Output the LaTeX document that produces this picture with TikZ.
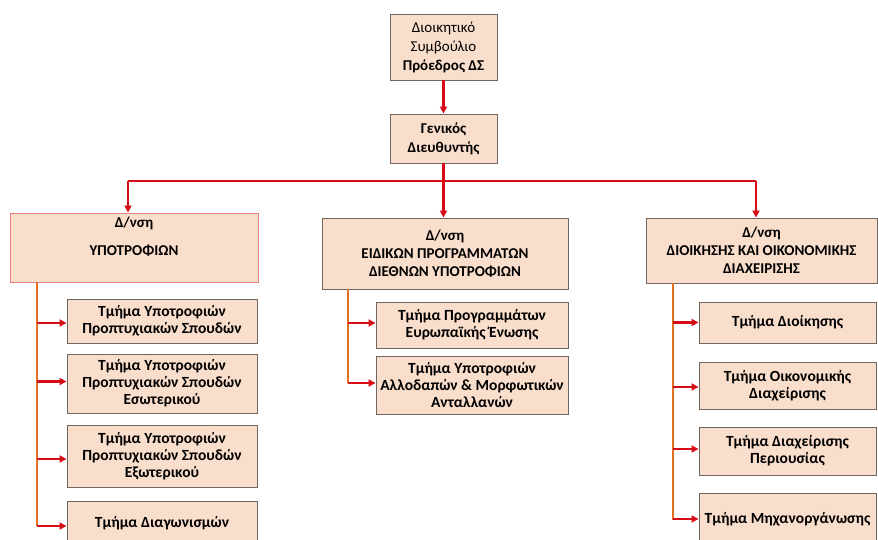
\documentclass[tikz,border=0pt]{standalone}
\usepackage{fontspec}
\setmainfont{Carlito}
\usepackage{xcolor}
\usetikzlibrary{arrows.meta, positioning}
\definecolor{peach}{RGB}{250,222,204}
\definecolor{boxline}{RGB}{112,102,96}
\definecolor{redline}{RGB}{214,12,22}
\definecolor{trunkline}{RGB}{226,112,32}
\definecolor{pinkline}{RGB}{236,128,128}
\tikzset{
  font=\fontsize{15}{17}\selectfont,           % calibri-like text everywhere
  board/.style    = {rectangle, draw=boxline, fill=peach, line width=0.9pt,
                     inner sep=0pt, align=center,
                     font=\fontsize{15}{19}\selectfont},
  dept/.style     = {rectangle, draw=boxline, fill=peach, line width=0.9pt,
                     inner sep=0pt, align=center, font=\fontsize{15}{18}\selectfont\bfseries},
  unit/.style     = {rectangle, draw=boxline, fill=peach, line width=0.9pt,
                     inner sep=0pt, align=center, font=\fontsize{15.5}{17}\selectfont\bfseries},
  arrow/.style    = {-{Triangle[length=7pt,width=7pt]}, draw=redline, line width=2.2pt},
  trunk/.style    = {draw=trunkline, line width=2.2pt}
}
\begin{document}
\begin{tikzpicture}[x=1pt,y=-1pt]
  \useasboundingbox (0,0) rectangle (878,540);
  \clip (0,0) rectangle (878,540);
  % top of the chart
  \node[board, minimum width=107, minimum height=66] (ds) at (443.5,47)
    {Διοικητικό\\Συμβούλιο\\\textbf{Πρόεδρος ΔΣ}};
  \node[board, font=\fontsize{15}{19}\selectfont\bfseries,
        minimum width=107, minimum height=49] (gd) at (443.5,138.5)
    {Γενικός\\Διευθυντής};
  % directorates
  \node[dept, draw=pinkline, minimum width=248, minimum height=69] (dy) at (134,247.5)
    {Δ/νση\\[10pt]ΥΠΟΤΡΟΦΙΩΝ\\[4pt]~};
  \node[dept, minimum width=246, minimum height=71] (de) at (445,253.5)
    {Δ/νση\\ΕΙΔΙΚΩΝ ΠΡΟΓΡΑΜΜΑΤΩΝ\\ΔΙΕΘΝΩΝ ΥΠΟΤΡΟΦΙΩΝ};
  \node[dept, minimum width=231, minimum height=65] (dd) at (761.5,250.5)
    {Δ/νση\\ΔΙΟΙΚΗΣΗΣ ΚΑΙ ΟΙΚΟΝΟΜΙΚΗΣ\\ΔΙΑΧΕΙΡΙΣΗΣ};
  % sections under each directorate
  \node[unit, minimum width=190, minimum height=44] (y1) at (162,321)
    {Τμήμα Υποτροφιών\\Προπτυχιακών Σπουδών};
  \node[unit, minimum width=190, minimum height=59] (y2) at (162,383.5)
    {Τμήμα Υποτροφιών\\Προπτυχιακών Σπουδών\\Εσωτερικού};
  \node[unit, minimum width=190, minimum height=62] (y3) at (162,456)
    {Τμήμα Υποτροφιών\\Προπτυχιακών Σπουδών\\Εξωτερικού};
  \node[unit, minimum width=190, minimum height=44] (y4) at (162,523)
    {Τμήμα Διαγωνισμών};
  \node[unit, minimum width=192, minimum height=46] (e1) at (472,325)
    {Τμήμα Προγραμμάτων\\Ευρωπαϊκής Ένωσης};
  \node[unit, minimum width=192, minimum height=58] (e2) at (472,385)
    {Τμήμα Υποτροφιών\\Αλλοδαπών \& Μορφωτικών\\Ανταλλανών};
  \node[unit, minimum width=177, minimum height=41] (d1) at (787.5,322.5)
    {Τμήμα Διοίκησης};
  \node[unit, minimum width=177, minimum height=47] (d2) at (787.5,385.5)
    {Τμήμα Οικονομικής\\Διαχείρισης};
  \node[unit, minimum width=177, minimum height=48] (d3) at (787.5,451)
    {Τμήμα Διαχείρισης\\Περιουσίας};
  \node[unit, minimum width=177, minimum height=52] (d4) at (787.5,519)
    {Τμήμα Μηχανοργάνωσης};
  % connectors
  \coordinate (bus) at (443.5,181);
  \coordinate (t1) at (128,181);
  \coordinate (t3) at (756,181);
  \coordinate (vy) at (37,0);
  \coordinate (ve) at (348,0);
  \coordinate (vd) at (673,0);
  \draw[arrow] (ds) -- (gd);
  \draw[redline, line width=2.2pt] (gd.south) -- (bus);
  \draw[redline, line width=2.2pt] (t1) -- (t3);
  \draw[arrow] (t1) -- (t1 |- dy.north);
  \draw[arrow] (bus) -- (bus |- de.north);
  \draw[arrow] (t3) -- (t3 |- dd.north);
  \draw[trunk] (vy |- dy.south) -- ([yshift=-3pt]vy |- y4.west);
  \draw[trunk] (ve |- de.south) -- ([yshift=2pt]ve |- e2.west);
  \draw[trunk] (vd |- dd.south) -- ([yshift=-0.5pt]vd |- d4.west);
  \draw[arrow] ([yshift=-2pt]vy |- y1.west) -- ([yshift=-2pt]y1.west);
  \draw[arrow] ([yshift=2pt]vy |- y2.west) -- ([yshift=2pt]y2.west);
  \draw[arrow] ([yshift=-3pt]vy |- y3.west) -- ([yshift=-3pt]y3.west);
  \draw[arrow] ([yshift=-3pt]vy |- y4.west) -- ([yshift=-3pt]y4.west);
  \draw[arrow] ([yshift=2pt]ve |- e1.west) -- ([yshift=2pt]e1.west);
  \draw[arrow] ([yshift=2pt]ve |- e2.west) -- ([yshift=2pt]e2.west);
  \draw[arrow] (vd |- d1.west) -- (d1.west);
  \draw[arrow] ([yshift=-1.5pt]vd |- d2.west) -- ([yshift=-1.5pt]d2.west);
  \draw[arrow] ([yshift=2pt]vd |- d3.west) -- ([yshift=2pt]d3.west);
  \draw[arrow] (vd |- d4.west) -- (d4.west);
\end{tikzpicture}
\end{document}
